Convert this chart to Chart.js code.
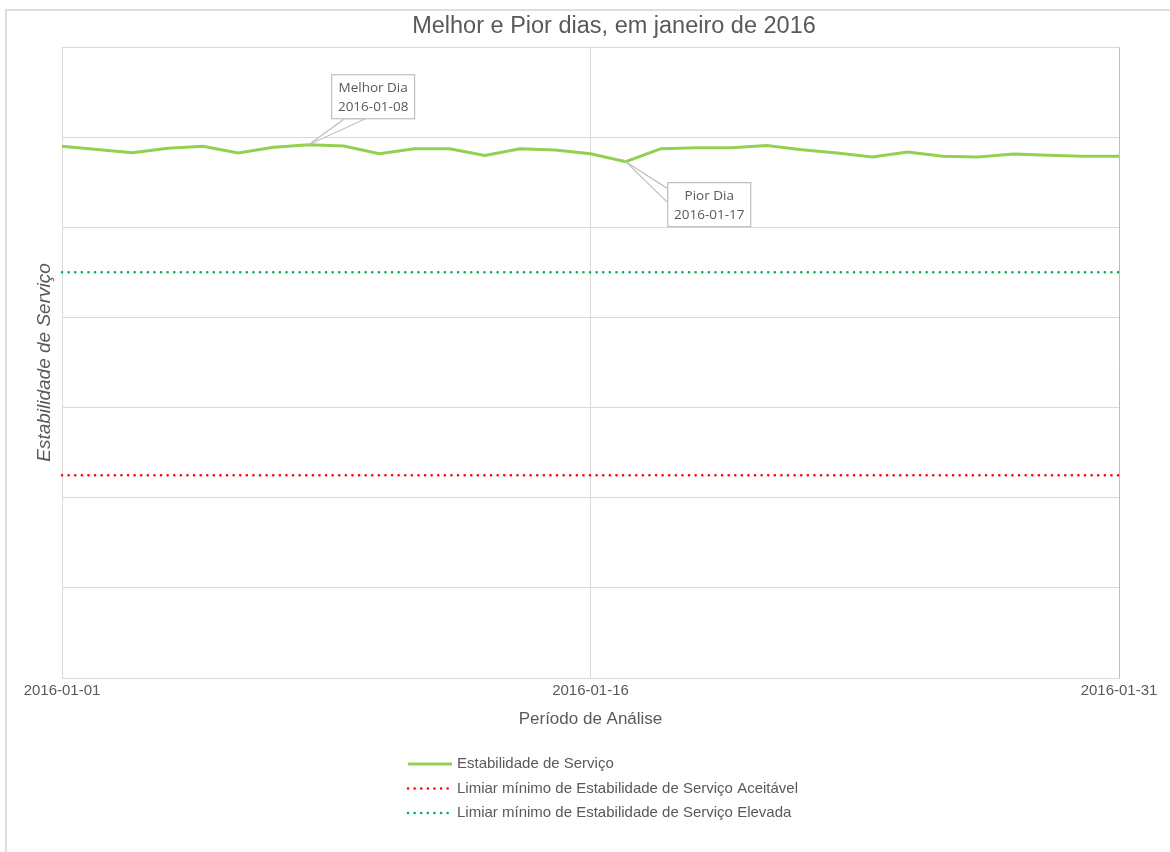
<!DOCTYPE html>
<html>
<head>
<meta charset="utf-8">
<script src="https://cdn.jsdelivr.net/npm/chart.js@4.4.1/dist/chart.umd.min.js"></script>
<style>
  html, body { margin: 0; padding: 0; background: #fff; overflow: hidden; }
  #frame { position: absolute; left: 5px; top: 9px; width: 1300px; height: 1000px;
           border: 2px solid #dedede; box-sizing: border-box; }
  #wrap { position: absolute; left: 0; top: 0; width: 1170px; height: 852px; }
</style>
</head>
<body>
<div id="frame"></div>
<div id="wrap"><canvas id="chart" width="1170" height="852"></canvas></div>
<script>
// Chart data
const days = [
  '2016-01-01', '2016-01-02', '2016-01-03', '2016-01-04', '2016-01-05', '2016-01-06',
  '2016-01-07', '2016-01-08', '2016-01-09', '2016-01-10', '2016-01-11', '2016-01-12',
  '2016-01-13', '2016-01-14', '2016-01-15', '2016-01-16', '2016-01-17', '2016-01-18',
  '2016-01-19', '2016-01-20', '2016-01-21', '2016-01-22', '2016-01-23', '2016-01-24',
  '2016-01-25', '2016-01-26', '2016-01-27', '2016-01-28', '2016-01-29', '2016-01-30',
  '2016-01-31'
];
const stability = [
  94.49, 94.31, 94.14, 94.38, 94.49, 94.12, 94.44, 94.58, 94.51, 94.08, 94.36,
  94.36, 93.99, 94.36, 94.29, 94.08, 93.64, 94.36, 94.41, 94.41, 94.53, 94.30,
  94.12, 93.90, 94.18, 93.94, 93.90, 94.06, 93.99, 93.94, 93.94
];
const shownTicks = ['2016-01-01', '2016-01-16', '2016-01-31'];
const thresholdAcceptable = 76.25;
const thresholdHigh = 87.5;
const bestDay = '2016-01-08';
const worstDay = '2016-01-17';

const COLORS = {
  text: '#595959',
  grid: '#d9d9d9',
  edge: '#bfbfbf',
  line: '#92d050',
  red: '#ff0000',
  green: '#00b050'
};
const FONT = '"Liberation Sans", Arial, sans-serif';

function flatLine(value) {
  return [{ x: days[0], y: value }, { x: days[days.length - 1], y: value }];
}

// title, legend and callouts drawn on top of the chart
const decorPlugin = {
  id: 'decor',
  afterDraw(chart) {
    const ctx = chart.ctx;
    ctx.save();

    // title
    ctx.fillStyle = COLORS.text;
    ctx.font = '23.5px ' + FONT;
    ctx.textAlign = 'center';
    ctx.textBaseline = 'middle';
    ctx.fillText('Melhor e Pior dias, em janeiro de 2016', 614, 27);

    // callouts
    const meta = chart.getDatasetMeta(0);
    const best = meta.data[days.indexOf(bestDay)];
    const worst = meta.data[days.indexOf(worstDay)];
    drawCallout(ctx, best.x, best.y, best.x + 23, best.y - 70, 'Melhor Dia', bestDay, 'below');
    drawCallout(ctx, worst.x, worst.y, worst.x + 42, worst.y + 21, 'Pior Dia', worstDay, 'left');

    // legend
    const items = chart.data.datasets;
    ctx.font = '15px ' + FONT;
    ctx.textAlign = 'left';
    items.forEach((ds, i) => {
      const y = 764 + i * 24.5;
      ctx.beginPath();
      ctx.strokeStyle = ds.borderColor;
      ctx.lineWidth = ds.borderWidth;
      ctx.setLineDash(ds.borderDash || []);
      ctx.lineCap = ds.borderCapStyle || 'butt';
      ctx.moveTo(408, y);
      ctx.lineTo(452, y);
      ctx.stroke();
      ctx.setLineDash([]);
      ctx.fillStyle = COLORS.text;
      ctx.fillText(ds.label, 457, y);
    });
    ctx.restore();
  }
};

function drawCallout(ctx, px, py, bx, by, line1, line2, side) {
  const w = 83, h = 44;
  ctx.strokeStyle = COLORS.edge;
  ctx.fillStyle = '#fff';
  ctx.lineWidth = 1.2;
  ctx.beginPath();
  ctx.moveTo(px, py);
  if (side === 'below') {
    ctx.lineTo(bx + 13, by + h);
    ctx.lineTo(bx + 34, by + h);
  } else {
    ctx.lineTo(bx, by + 6);
    ctx.lineTo(bx, by + 20);
  }
  ctx.closePath();
  ctx.fill();
  ctx.stroke();
  ctx.fillRect(bx, by, w, h);
  ctx.strokeRect(bx, by, w, h);
  ctx.fillStyle = COLORS.text;
  ctx.font = '13.5px "Open Sans", sans-serif';
  ctx.textAlign = 'center';
  ctx.textBaseline = 'middle';
  ctx.fillText(line1, bx + w / 2, by + 13);
  ctx.fillText(line2, bx + w / 2, by + 32);
}

new Chart(document.getElementById('chart'), {
  type: 'line',
  data: {
    labels: days,
    datasets: [{
      label: 'Estabilidade de Serviço',
      data: stability,
      borderColor: COLORS.line,
      borderWidth: 3,
      pointRadius: 0,
      tension: 0
    }, {
      label: 'Limiar mínimo de Estabilidade de Serviço Aceitável',
      data: flatLine(thresholdAcceptable),
      borderColor: COLORS.red,
      borderWidth: 2.5,
      borderDash: [0.1, 6.5],
      borderCapStyle: 'round',
      pointRadius: 0
    }, {
      label: 'Limiar mínimo de Estabilidade de Serviço Elevada',
      data: flatLine(thresholdHigh),
      borderColor: COLORS.green,
      borderWidth: 2.5,
      borderDash: [0.1, 6.5],
      borderCapStyle: 'round',
      pointRadius: 0
    }]
  },
  options: {
    responsive: false,
    animation: false,
    layout: { padding: { top: 47, right: 51, bottom: 117, left: 0 } },
    plugins: {
      legend: { display: false },
      title: { display: false },
      tooltip: { enabled: false }
    },
    scales: {
      x: {
        offset: false,
        afterFit(scale) { scale.height = 57; },
        border: { color: COLORS.grid, width: 1 },
        grid: {
          drawTicks: false,
          color(c) {
            if (c.index === 15) return COLORS.grid;
            if (c.index === 30) return COLORS.edge;
            return 'rgba(0,0,0,0)';
          }
        },
        ticks: {
          autoSkip: false,
          maxRotation: 0,
          padding: 4,
          color: COLORS.text,
          font: { family: FONT, size: 15 },
          callback(value) {
            const lbl = this.getLabelForValue(value);
            return shownTicks.includes(lbl) ? lbl : '';
          }
        },
        title: {
          display: true,
          text: 'Período de Análise',
          color: COLORS.text,
          font: { family: FONT, size: 17 },
          padding: { top: 0, bottom: 5 }
        }
      },
      y: {
        min: 65,
        max: 100,
        afterFit(scale) { scale.width = 62; },
        border: { color: COLORS.grid, width: 1 },
        grid: { drawTicks: false, color: COLORS.grid },
        ticks: { display: false, stepSize: 5 },
        title: {
          display: true,
          text: 'Estabilidade de Serviço',
          color: COLORS.text,
          font: { family: FONT, size: 19, style: 'italic' },
          padding: { top: 33, bottom: 0 }
        }
      }
    }
  },
  plugins: [decorPlugin]
});
</script>
</body>
</html>
